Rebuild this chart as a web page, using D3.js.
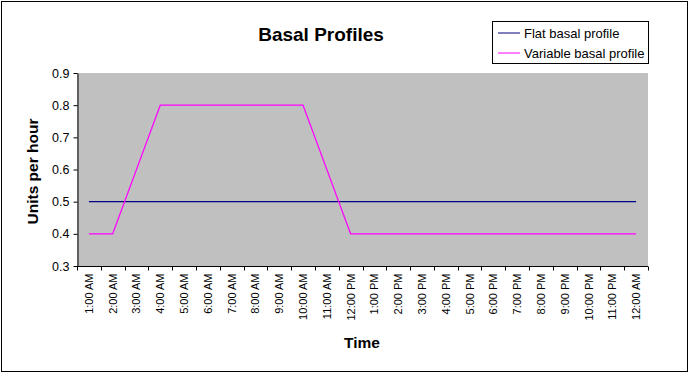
<!DOCTYPE html>
<html>
<head>
<meta charset="utf-8">
<script src="https://cdn.jsdelivr.net/npm/d3@7"></script>
<style>
  body { margin: 0; background: #fff; }
  text { font-family: "Liberation Sans", Arial, sans-serif; }
</style>
</head>
<body>
<div id="chart"></div>
<script>
// Chart data
const hours = ["1:00 AM", "2:00 AM", "3:00 AM", "4:00 AM", "5:00 AM", "6:00 AM",
    "7:00 AM", "8:00 AM", "9:00 AM", "10:00 AM", "11:00 AM", "12:00 PM",
    "1:00 PM", "2:00 PM", "3:00 PM", "4:00 PM", "5:00 PM", "6:00 PM",
    "7:00 PM", "8:00 PM", "9:00 PM", "10:00 PM", "11:00 PM", "12:00 AM"];
const flatBasal = [0.5, 0.5, 0.5, 0.5, 0.5, 0.5, 0.5, 0.5, 0.5, 0.5, 0.5, 0.5,
    0.5, 0.5, 0.5, 0.5, 0.5, 0.5, 0.5, 0.5, 0.5, 0.5, 0.5, 0.5];
const variableBasal = [0.4, 0.4, 0.6, 0.8, 0.8, 0.8, 0.8, 0.8, 0.8, 0.8, 0.6, 0.4,
    0.4, 0.4, 0.4, 0.4, 0.4, 0.4, 0.4, 0.4, 0.4, 0.4, 0.4, 0.4];
const yTicks = [0.3, 0.4, 0.5, 0.6, 0.7, 0.8, 0.9];
const seriesNames = ["Flat basal profile", "Variable basal profile"];
const seriesColors = ["#000080", "#ff00ff"];

const svgWidth = 690;
const svgHeight = 374;
const plot = { left: 77, right: 648, top: 73, bottom: 266 };

const svg = d3.select("#chart")
    .append("svg")
    .attr("width", svgWidth)
    .attr("height", svgHeight);

// outer frame
svg.append("rect")
    .attr("x", 1.5).attr("y", 1.5)
    .attr("width", 686).attr("height", 370)
    .attr("fill", "#fff")
    .attr("stroke", "#000");

// scales
const x = d3.scaleBand()
    .domain(hours)
    .range([plot.left, plot.right]);
const y = d3.scaleLinear()
    .domain([0.3, 0.9])
    .range([plot.bottom, plot.top]);

// plot area
svg.append("rect")
    .attr("x", plot.left).attr("y", plot.top)
    .attr("width", plot.right - plot.left)
    .attr("height", plot.bottom - plot.top)
    .attr("fill", "#c0c0c0");

// y axis
const yAxis = svg.append("g")
    .attr("transform", `translate(${plot.left + 0.5},0)`)
    .call(d3.axisLeft(y).tickValues(yTicks).tickFormat(d3.format(".1f")).tickSize(4).tickSizeOuter(0));
yAxis.selectAll("text").attr("font-size", 12.5).attr("fill", "#000").attr("dx", "-1");
yAxis.selectAll("line, path").attr("stroke", "#000");

// x axis with ticks on category boundaries
const xAxis = svg.append("g")
    .attr("transform", `translate(0,${plot.bottom + 0.5})`);
xAxis.append("line")
    .attr("x1", plot.left).attr("x2", plot.right)
    .attr("stroke", "#000");
xAxis.selectAll(".tk")
    .data(hours.concat(["end"]))
    .enter()
    .append("line")
    .attr("x1", (d, i) => Math.round(plot.left + i * x.step()) + 0.5)
    .attr("x2", (d, i) => Math.round(plot.left + i * x.step()) + 0.5)
    .attr("y1", 0).attr("y2", 4)
    .attr("stroke", "#000");
xAxis.selectAll(".lbl")
    .data(hours)
    .enter()
    .append("text")
    .attr("transform", d => `translate(${x(d) + x.bandwidth() / 2 + 4},7) rotate(-90)`)
    .attr("text-anchor", "end")
    .attr("font-size", 11)
    .text(d => d);

// lines
const line = d3.line()
    .x((d, i) => x(hours[i]) + x.bandwidth() / 2)
    .y(d => y(d));

[flatBasal, variableBasal].forEach((vals, k) => {
    svg.append("path")
        .datum(vals)
        .attr("d", line)
        .attr("fill", "none")
        .attr("stroke", seriesColors[k])
        .attr("stroke-width", 1.2);
});

// title
svg.append("text")
    .attr("x", 321).attr("y", 41)
    .attr("text-anchor", "middle")
    .attr("font-size", 19)
    .attr("font-weight", "bold")
    .text("Basal Profiles");

// axis titles
svg.append("text")
    .attr("transform", `translate(38,${(plot.top + plot.bottom) / 2 + 2}) rotate(-90)`)
    .attr("text-anchor", "middle")
    .attr("font-size", 15.5)
    .attr("font-weight", "bold")
    .text("Units per hour");

svg.append("text")
    .attr("x", 362).attr("y", 348)
    .attr("text-anchor", "middle")
    .attr("font-size", 15.5)
    .attr("font-weight", "bold")
    .text("Time");

// legend
const legend = svg.append("g");
legend.append("rect")
    .attr("x", 492.5).attr("y", 21.5)
    .attr("width", 156).attr("height", 42)
    .attr("fill", "#fff")
    .attr("stroke", "#000");
seriesNames.forEach((name, k) => {
    const ly = 33 + k * 20;
    legend.append("line")
        .attr("x1", 498).attr("x2", 520)
        .attr("y1", ly).attr("y2", ly)
        .attr("stroke", seriesColors[k]);
    legend.append("text")
        .attr("x", 524).attr("y", ly + 4.5)
        .attr("font-size", 13)
        .text(name);
});
</script>
</body>
</html>
